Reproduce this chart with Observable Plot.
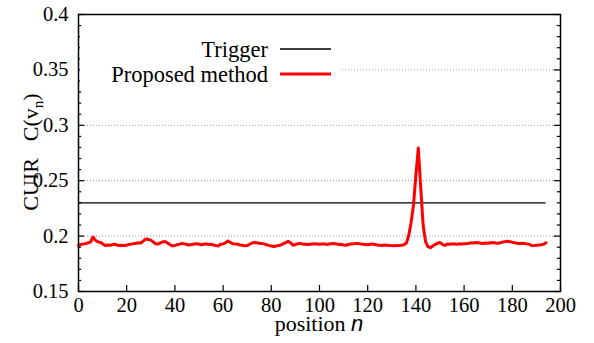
<!DOCTYPE html>
<html>
<head>
<meta charset="utf-8">
<script src="https://cdn.jsdelivr.net/npm/d3@7"></script>
<script src="https://cdn.jsdelivr.net/npm/@observablehq/plot@0.6"></script>
<style>
  html, body { margin: 0; padding: 0; background: white; }
  #chart svg g[aria-label*="tick label"] { font-family: 'Liberation Serif', 'Times New Roman', serif; }
</style>
</head>
<body>
<div id="chart"></div>
<script>
// CUIR values C(v_n) for position n = 0..194
const cuirValues = [
  0.1918, 0.1925, 0.1928, 0.1932, 0.1940, 0.1946, 0.1992, 0.1962, 0.1948, 0.1944,
  0.1930, 0.1916, 0.1920, 0.1918, 0.1922, 0.1926, 0.1920, 0.1915, 0.1917, 0.1914,
  0.1920, 0.1925, 0.1928, 0.1932, 0.1936, 0.1940, 0.1938, 0.1958, 0.1974, 0.1970,
  0.1964, 0.1948, 0.1930, 0.1928, 0.1938, 0.1948, 0.1950, 0.1938, 0.1922, 0.1912,
  0.1916, 0.1922, 0.1928, 0.1934, 0.1930, 0.1924, 0.1920, 0.1924, 0.1928, 0.1930,
  0.1928, 0.1922, 0.1926, 0.1930, 0.1924, 0.1926, 0.1920, 0.1916, 0.1910, 0.1926,
  0.1930, 0.1940, 0.1956, 0.1944, 0.1930, 0.1928, 0.1926, 0.1920, 0.1918, 0.1912,
  0.1914, 0.1926, 0.1938, 0.1942, 0.1940, 0.1936, 0.1934, 0.1930, 0.1922, 0.1916,
  0.1910, 0.1906, 0.1910, 0.1916, 0.1920, 0.1932, 0.1942, 0.1952, 0.1940, 0.1918,
  0.1924, 0.1932, 0.1934, 0.1928, 0.1926, 0.1924, 0.1926, 0.1928, 0.1930, 0.1928,
  0.1926, 0.1928, 0.1930, 0.1924, 0.1928, 0.1932, 0.1934, 0.1930, 0.1924, 0.1926,
  0.1920, 0.1918, 0.1924, 0.1928, 0.1930, 0.1934, 0.1934, 0.1930, 0.1926, 0.1924,
  0.1922, 0.1926, 0.1928, 0.1924, 0.1920, 0.1918, 0.1916, 0.1920, 0.1918, 0.1916,
  0.1914, 0.1912, 0.1916, 0.1914, 0.1918, 0.1922, 0.1935, 0.2000, 0.2120, 0.2280,
  0.2550, 0.2795, 0.2440, 0.2100, 0.1950, 0.1905, 0.1895, 0.1910, 0.1925, 0.1935,
  0.1942, 0.1925, 0.1916, 0.1928, 0.1926, 0.1930, 0.1928, 0.1926, 0.1930, 0.1928,
  0.1930, 0.1932, 0.1936, 0.1940, 0.1938, 0.1942, 0.1940, 0.1936, 0.1934, 0.1938,
  0.1936, 0.1940, 0.1942, 0.1938, 0.1936, 0.1940, 0.1946, 0.1950, 0.1954, 0.1950,
  0.1944, 0.1940, 0.1936, 0.1934, 0.1936, 0.1934, 0.1930, 0.1926, 0.1916, 0.1914,
  0.1918, 0.1920, 0.1922, 0.1926, 0.1940
];
const triggerValue = 0.23;
const triggerEnd = 194;

const xTicks = [0, 20, 40, 60, 80, 100, 120, 140, 160, 180, 200];
const yTicks = [0.15, 0.2, 0.25, 0.3, 0.35, 0.4];
const yMinorTicks = [0.16, 0.17, 0.18, 0.19, 0.21, 0.22, 0.23, 0.24, 0.26, 0.27, 0.28, 0.29,
                     0.31, 0.32, 0.33, 0.34, 0.36, 0.37, 0.38, 0.39];
const gridFull = [0.2, 0.25, 0.3, 0.35];

const legendLabels = ["Trigger", "Proposed method"];
const legendColors = ["black", "#ff0000"];

const data = cuirValues.map((v, i) => ({n: i, v}));

const serif = "'Liberation Serif', 'Times New Roman', serif";

const plot = Plot.plot({
  width: 594,
  height: 343,
  marginLeft: 78,
  marginRight: 34,
  marginTop: 14,
  marginBottom: 52,
  style: {fontFamily: serif, fontSize: "20.5px", background: "white", color: "black", overflow: "visible"},
  x: {domain: [0, 200], ticks: xTicks, tickSize: 0, tickPadding: 6, label: null, tickFormat: d => String(d)},
  y: {domain: [0.15, 0.4], ticks: yTicks, tickSize: 0, tickPadding: 10, label: null, tickFormat: d => String(d)},
  marks: [
    Plot.ruleY(gridFull, {stroke: "#999", strokeDasharray: "1,2", strokeWidth: 1}),
    // inward ticks, left and right
    Plot.ruleY(yTicks, {x1: 0, x2: 2.6, stroke: "black", strokeWidth: 1.2}),
    Plot.ruleY(yMinorTicks, {x1: 0, x2: 1.3, stroke: "black", strokeWidth: 1.2}),
    Plot.ruleY(yTicks, {x1: 200, x2: 197.4, stroke: "black", strokeWidth: 1.2}),
    Plot.ruleY(yMinorTicks, {x1: 200, x2: 198.7, stroke: "black", strokeWidth: 1.2}),
    // inward ticks, bottom
    Plot.ruleX(xTicks, {y1: 0.15, y2: 0.1555, stroke: "black", strokeWidth: 1.2}),
    // trigger line
    Plot.ruleY([triggerValue], {x1: 0, x2: triggerEnd, stroke: legendColors[0], strokeWidth: 1.3}),
    // proposed method
    Plot.line(data, {x: "n", y: "v", stroke: legendColors[1], strokeWidth: 3, strokeLinejoin: "round"}),
    Plot.frame({stroke: "black", strokeWidth: 1.5})
  ]
});

const svg = d3.select(plot);

// Legend (opaque key box like gnuplot)
svg.append("rect").attr("x", 80).attr("y", 36).attr("width", 262).attr("height", 54).attr("fill", "white");
const lg = svg.append("g").attr("font-family", serif).attr("font-size", 22.5);
[0, 1].forEach(i => {
  const yC = 49 + i * 25;
  lg.append("text").attr("x", 268).attr("y", yC + 8).attr("text-anchor", "end").attr("fill", "black").text(legendLabels[i]);
  lg.append("line").attr("x1", 280).attr("x2", 331).attr("y1", yC).attr("y2", yC)
    .attr("stroke", legendColors[i]).attr("stroke-width", i === 0 ? 1.3 : 3);
});

// Y axis label
const yl = svg.append("text")
  .attr("transform", "translate(38,152) rotate(-90)")
  .attr("text-anchor", "middle")
  .attr("font-family", serif).attr("font-size", 22).attr("fill", "black");
yl.append("tspan").text("CUIR");
yl.append("tspan").attr("dx", 17).text("C(v");
yl.append("tspan").attr("dy", 5).attr("font-size", 15).text("n");
yl.append("tspan").attr("dy", -5).text(")");

// X axis label
const xl = svg.append("text")
  .attr("x", 319).attr("y", 331)
  .attr("text-anchor", "middle")
  .attr("font-family", serif).attr("font-size", 22).attr("fill", "black");
xl.append("tspan").text("position ");
xl.append("tspan").attr("font-family", "'Liberation Sans', Arial, sans-serif").attr("font-style", "italic").text("n");

document.getElementById("chart").appendChild(plot);
</script>
</body>
</html>
